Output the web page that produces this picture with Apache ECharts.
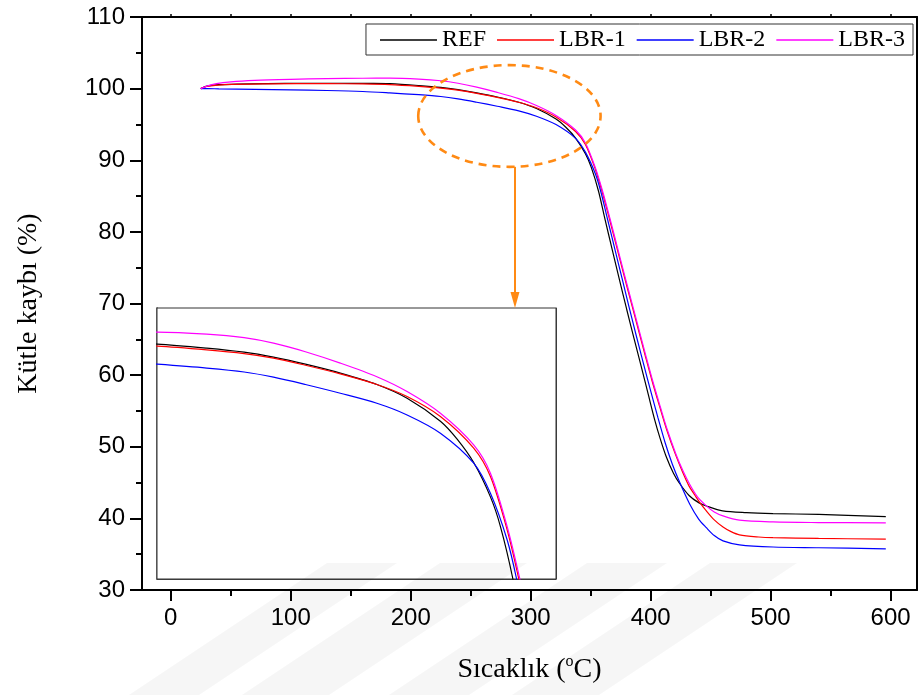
<!DOCTYPE html>
<html>
<head>
<meta charset="utf-8">
<script src="https://cdn.jsdelivr.net/npm/echarts@6/dist/echarts.min.js"></script>
<style>
  html, body { margin: 0; padding: 0; background: #fff; }
  #chart { width: 922px; height: 695px; }
</style>
</head>
<body>
<div id="chart"></div>
<script>
// Thermogravimetric curves: temperature (°C) and remaining mass (%) per sample
const seriesNames = ['REF', 'LBR-1', 'LBR-2', 'LBR-3'];
const seriesColors = ['#000000', '#ff0000', '#0000ff', '#ff00ff'];

const tempREF = [25, 28, 32, 40, 55, 80, 110, 140, 165, 182.5, 206.7, 225, 239.4, 255, 272.1, 290, 304.8, 321.1, 329.3, 337.4, 345.6, 350.5, 356.6, 362, 368, 374, 380, 386, 392, 398, 403.3, 408, 413, 419, 424, 432, 440, 447, 460, 480, 502, 540, 596];
const massREF = [100, 100.25, 100.42, 100.55, 100.64, 100.7, 100.74, 100.75, 100.73, 100.69, 100.43, 100.17, 99.85, 99.4, 98.83, 98.1, 97.22, 95.75, 94.6, 93.1, 90.9, 89.0, 85.64, 81.7, 77.5, 73.3, 69.2, 65.2, 61.3, 57.3, 53.8, 51.1, 48.6, 46.3, 44.9, 43.2, 42.2, 41.7, 41.05, 40.8, 40.67, 40.55, 40.25];

const tempLBR1 = [25, 30, 45, 80, 130, 160, 182.5, 206.7, 225, 239.4, 255, 272.1, 290, 304.8, 321.1, 337.4, 345.6, 353.8, 359.5, 365.5, 371.5, 377.5, 383.5, 389.5, 395.5, 401.5, 407.5, 413.5, 420.5, 426.5, 432, 437, 441, 446.4, 453, 460.3, 467, 474, 490, 502, 540, 596];
const massLBR1 = [100, 100.3, 100.55, 100.66, 100.7, 100.65, 100.56, 100.32, 100.08, 99.79, 99.33, 98.78, 98.1, 97.33, 96.05, 94.02, 92.2, 88.78, 85.64, 81.9, 78.0, 74.1, 70.3, 66.5, 62.7, 59.0, 55.6, 52.3, 49.0, 46.5, 44.5, 43.2, 42.2, 41.05, 39.8, 38.8, 38.15, 37.7, 37.4, 37.3, 37.2, 37.1];

const tempLBR2 = [25, 30, 40, 70, 100, 130, 160, 182.5, 206.7, 225, 239.4, 255, 272.1, 290, 304.8, 321.1, 337.4, 345.6, 353.8, 358.4, 364, 370, 376, 382, 388, 394, 400, 406, 412, 418, 424, 432.5, 440, 446.4, 453, 460.3, 474, 502, 540, 596];
const massLBR2 = [100, 100.0, 99.97, 99.9, 99.83, 99.74, 99.6, 99.4, 99.15, 98.9, 98.57, 98.1, 97.54, 96.9, 96.15, 94.98, 93.06, 91.13, 88.14, 85.64, 81.8, 77.7, 73.6, 69.5, 65.5, 61.6, 57.8, 54.1, 50.6, 47.6, 45.1, 42.0, 39.9, 38.7, 37.6, 36.85, 36.3, 36.0, 35.9, 35.75];

const tempLBR3 = [25, 30, 38, 50, 70, 100, 130, 160, 182.5, 206.7, 225, 239.4, 255, 272.1, 290, 304.8, 321.1, 337.4, 345.6, 353.8, 360, 366, 372, 378, 384, 390, 396, 402, 408, 414, 421, 427, 432.5, 439, 446.4, 453, 460.3, 474, 502, 540, 596];
const massLBR3 = [100, 100.35, 100.7, 100.95, 101.15, 101.3, 101.4, 101.45, 101.46, 101.33, 101.1, 100.75, 100.2, 99.47, 98.6, 97.65, 96.26, 94.23, 92.42, 89.0, 85.64, 81.9, 78.0, 74.1, 70.3, 66.5, 62.7, 59.0, 55.6, 52.3, 49.0, 46.6, 44.76, 43.0, 41.75, 40.9, 40.35, 39.75, 39.5, 39.42, 39.38];

// Axis ticks
const xMajorTicks = [0, 100, 200, 300, 400, 500, 600];
const xMinorTicks = [50, 150, 250, 350, 450, 550];
const xTopTicks = [0, 50, 100, 150, 200, 250, 300, 350, 400, 450, 500, 550, 600];
const insetXTicks = [200, 250, 300, 350];
const insetYTicks = [90, 95, 100];

const temps = [tempREF, tempLBR1, tempLBR2, tempLBR3];
const masses = [massREF, massLBR1, massLBR2, massLBR3];

function pairs(t, m) {
  return t.map((v, i) => [v, m[i]]);
}

const chart = echarts.init(document.getElementById('chart'), null, { renderer: 'canvas' });

const labelFont = 'Liberation Sans';
const titleFont = 'Liberation Serif';

function makeSeries(xIdx, yIdx, z) {
  return seriesNames.map((name, i) => ({
    name: name,
    type: 'line',
    xAxisIndex: xIdx,
    yAxisIndex: yIdx,
    data: pairs(temps[i], masses[i]),
    symbol: 'none',
    smooth: 0.3,
    clip: true,
    lineStyle: { color: seriesColors[i], width: 1.2 },
    itemStyle: { color: seriesColors[i] },
    z: z
  }));
}

const option = {
  animation: false,
  backgroundColor: '#ffffff',
  grid: [
    { left: 142, right: 5, top: 17, bottom: 105 },
    { left: 157, top: 308, width: 399, height: 271, show: true, backgroundColor: '#ffffff', borderColor: '#333', borderWidth: 1, z: 5 }
  ],
  legend: {
    data: seriesNames,
    right: 9,
    top: 24,
    icon: 'rect',
    itemWidth: 57,
    itemHeight: 1.3,
    itemGap: 11,
    padding: [4, 8, 3, 14],
    borderColor: '#333',
    borderWidth: 1,
    backgroundColor: '#fff',
    textStyle: { fontFamily: titleFont, fontSize: 24, color: '#000', lineHeight: 24 }
  },
  xAxis: [
    {
      type: 'value', gridIndex: 0, position: 'bottom', min: -24, max: 622,
      name: '{a|Sıcaklık (}{s|o}{a|C)}',
      nameLocation: 'middle', nameGap: 64,
      nameTextStyle: {
        rich: {
          a: { fontFamily: titleFont, fontSize: 28, color: '#000', lineHeight: 31 },
          s: { fontFamily: titleFont, fontSize: 16, color: '#000', verticalAlign: 'top', lineHeight: 16 }
        }
      },
      axisLine: { show: true, onZero: false, lineStyle: { color: '#000', width: 2 } },
      axisTick: { show: true, inside: false, length: 11, customValues: xMajorTicks, lineStyle: { color: '#000', width: 2 } },
      axisLabel: { show: true, customValues: xMajorTicks, margin: 16, fontFamily: labelFont, fontSize: 24, color: '#000' },
      splitLine: { show: false }
    },
    {
      type: 'value', gridIndex: 0, position: 'top', min: -24, max: 622,
      axisLine: { show: true, onZero: false, lineStyle: { color: '#000', width: 2 } },
      axisTick: { show: true, inside: false, length: 3, customValues: xTopTicks, lineStyle: { color: '#000', width: 1.5 } },
      axisLabel: { show: false },
      splitLine: { show: false }
    },
    {
      type: 'value', gridIndex: 0, position: 'bottom', min: -24, max: 622,
      axisLine: { show: false, onZero: false },
      axisTick: { show: true, inside: false, length: 6, customValues: xMinorTicks, lineStyle: { color: '#000', width: 2 } },
      axisLabel: { show: false },
      splitLine: { show: false }
    },
    {
      type: 'value', gridIndex: 1, position: 'bottom', min: 182.35, max: 377.7,
      axisLine: { show: true, onZero: false, lineStyle: { color: '#444', width: 1 } },
      axisTick: { show: true, inside: true, length: 4, customValues: insetXTicks, lineStyle: { color: '#444', width: 1 } },
      axisLabel: { show: false },
      splitLine: { show: false }
    }
  ],
  yAxis: [
    {
      type: 'value', gridIndex: 0, position: 'left', min: 30, max: 110, interval: 10,
      name: 'Kütle kaybı (%)',
      nameLocation: 'middle', nameGap: 99, nameRotate: 90,
      nameTextStyle: { fontFamily: titleFont, fontSize: 28, color: '#000' },
      axisLine: { show: true, onZero: false, lineStyle: { color: '#000', width: 2 } },
      axisTick: { show: true, inside: false, length: 12, lineStyle: { color: '#000', width: 2 } },
      minorTick: { show: true, splitNumber: 2, length: 6, lineStyle: { color: '#000', width: 2 } },
      axisLabel: { show: true, margin: 17, fontFamily: labelFont, fontSize: 24, color: '#000' },
      splitLine: { show: false }
    },
    {
      type: 'value', gridIndex: 0, position: 'right', min: 30, max: 110,
      axisLine: { show: true, onZero: false, lineStyle: { color: '#000', width: 2 } },
      axisTick: { show: false },
      axisLabel: { show: false },
      splitLine: { show: false }
    },
    {
      type: 'value', gridIndex: 1, position: 'right', min: 85.64, max: 103,
      axisLine: { show: true, onZero: false, lineStyle: { color: '#444', width: 1 } },
      axisTick: { show: true, inside: true, length: 4, customValues: insetYTicks, lineStyle: { color: '#444', width: 1 } },
      axisLabel: { show: false },
      splitLine: { show: false }
    },
    {
      type: 'value', gridIndex: 1, position: 'left', min: 85.64, max: 103,
      axisLine: { show: true, onZero: false, lineStyle: { color: '#777', width: 2 } },
      axisTick: { show: false },
      axisLabel: { show: false },
      splitLine: { show: false }
    }
  ],
  series: makeSeries(0, 0, 3).concat(makeSeries(3, 2, 6))
};

chart.setOption(option);

// Dashed ellipse around the onset region and the arrow pointing to the magnified view
const focusCenter = [282.25, 96.18];
const focusHalfWidth = 76;   // °C
const focusHalfHeight = 7.1; // %
const arrowTemp = 286.9;

const c = chart.convertToPixel({ xAxisIndex: 0, yAxisIndex: 0 }, focusCenter);
const e = chart.convertToPixel({ xAxisIndex: 0, yAxisIndex: 0 }, [focusCenter[0] + focusHalfWidth, focusCenter[1] - focusHalfHeight]);
const rx = e[0] - c[0];
const ry = e[1] - c[1];
const ax = chart.convertToPixel({ xAxisIndex: 0, yAxisIndex: 0 }, [arrowTemp, focusCenter[1]])[0];
const arrowTop = c[1] + ry;
const arrowTip = 308;
const orange = '#ff8a14';

// Faint diagonal background stripes along the lower edge of the page
const stripeTops = [[327, 397], [440, 527], [587, 667], [710, 797]];
const stripeTopY = 563;
const stripeShift = 198;
const stripes = stripeTops.map(s => ({
  type: 'polygon', z: 20, silent: true,
  shape: { points: [[s[0], stripeTopY], [s[1], stripeTopY], [s[1] - stripeShift, 695], [s[0] - stripeShift, 695]] },
  style: { fill: 'rgba(0,0,0,0.035)' }
}));

chart.setOption({
  graphic: [
    {
      type: 'ellipse', z: 10,
      shape: { cx: c[0], cy: c[1], rx: rx, ry: ry },
      style: { fill: null, stroke: orange, lineWidth: 2.6, lineDash: [8, 6] }
    },
    {
      type: 'line', z: 10,
      shape: { x1: ax, y1: arrowTop, x2: ax, y2: arrowTip - 12 },
      style: { stroke: orange, lineWidth: 2 }
    },
    {
      type: 'polygon', z: 10,
      shape: { points: [[ax - 4.5, arrowTip - 16], [ax + 4.5, arrowTip - 16], [ax, arrowTip]] },
      style: { fill: orange }
    }
  ].concat(stripes)
});
</script>
</body>
</html>
